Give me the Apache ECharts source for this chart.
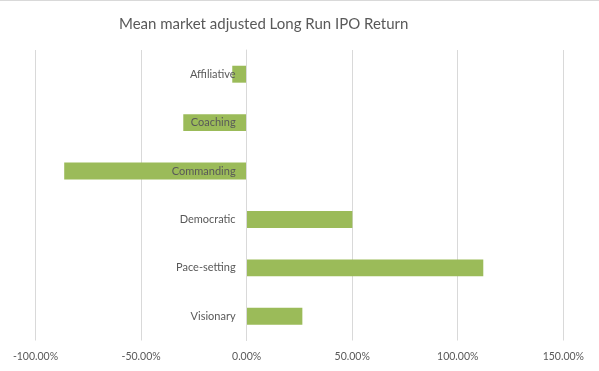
<!DOCTYPE html>
<html>
<head>
<meta charset="utf-8">
<script src="https://cdn.jsdelivr.net/npm/echarts@6/dist/echarts.min.js"></script>
<style>
html,body{margin:0;padding:0;background:#fff;}
#chart{width:599px;height:371px;position:absolute;left:0;top:0;}
#topline{position:absolute;left:0;top:0;width:599px;height:1px;background:#D9D9D9;z-index:5;}
</style>
</head>
<body>
<div id="chart"></div>
<div id="topline"></div>
<script>
const titleText = 'Mean market adjusted Long Run IPO Return';
const categories = ['Affiliative', 'Coaching', 'Commanding', 'Democratic', 'Pace-setting', 'Visionary'];
const values = [-0.068, -0.300, -0.864, 0.501, 1.121, 0.264];
const tickMin = -1.0, tickMax = 1.5, tickStep = 0.5;

const gridLeft = 35.5, gridRight = 35.7;
const plotW = 599 - gridLeft - gridRight;
const zeroOffset = -plotW * (0 - tickMin) / (tickMax - tickMin);

const chart = echarts.init(document.getElementById('chart'));
chart.setOption({
  animation: false,
  title: {
    text: titleText,
    left: 114,
    top: 12,
    textStyle: { fontFamily: 'Lato', fontSize: 15, fontWeight: 'normal', color: '#595959' }
  },
  grid: { left: gridLeft, right: gridRight, top: 50, bottom: 30.5, containLabel: false, outerBoundsMode: 'none' },
  xAxis: {
    type: 'value',
    min: tickMin, max: tickMax, interval: tickStep,
    axisLine: { show: false },
    axisTick: { show: false },
    splitLine: { show: true, lineStyle: { color: '#D9D9D9', width: 1 } },
    axisLabel: {
      margin: 11,
      color: '#595959', fontFamily: 'Lato', fontSize: 10.5,
      formatter: v => (v * 100).toFixed(2) + '%'
    }
  },
  yAxis: {
    type: 'category',
    inverse: true,
    data: categories,
    offset: zeroOffset,
    z: 5,
    axisLine: { show: true, onZero: false, lineStyle: { color: '#D9D9D9', width: 1 } },
    axisTick: { show: false },
    axisLabel: { margin: 11, color: '#595959', fontFamily: 'Lato', fontSize: 11 }
  },
  series: [{
    type: 'bar',
    data: values,
    barWidth: '35%',
    itemStyle: { color: '#9BBB59' },
    z: 1
  }]
});
</script>
</body>
</html>
